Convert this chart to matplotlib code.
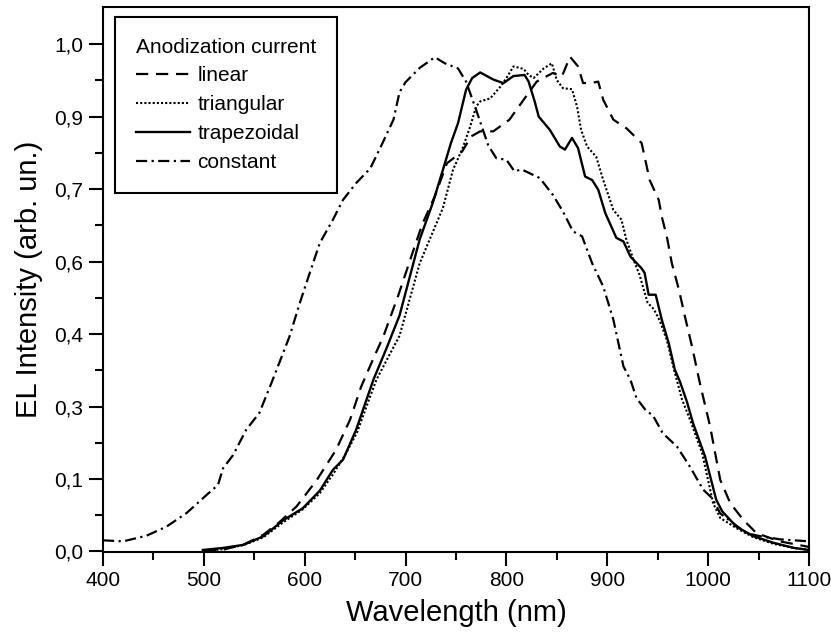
import numpy as np
import matplotlib
matplotlib.use("Agg")
import matplotlib.pyplot as plt
from matplotlib.ticker import FixedLocator, FuncFormatter, MultipleLocator

plt.rcParams['font.family'] = ['Liberation Sans', 'DejaVu Sans']

# linear anodization current (dashed)
wl_linear = [500, 520, 540, 559, 575, 592, 612, 631, 645, 656, 668, 678, 693, 709, 717,
             729, 741, 756, 765, 774, 787, 803, 817, 830, 846, 855, 863, 871, 876, 886,
             891, 896, 906, 919, 934, 937, 942, 951, 954, 959, 964, 971, 977, 984, 992,
             1002, 1012, 1022, 1035, 1048, 1071, 1100]
el_linear = [0.0, 0.004, 0.014, 0.033, 0.058, 0.089, 0.141, 0.200, 0.260, 0.325, 0.380, 0.424,
             0.506, 0.601, 0.647, 0.700, 0.765, 0.788, 0.818, 0.828, 0.828, 0.851, 0.890, 0.926,
             0.943, 0.936, 0.975, 0.956, 0.923, 0.924, 0.926, 0.890, 0.851, 0.834, 0.805, 0.778,
             0.732, 0.693, 0.660, 0.621, 0.568, 0.516, 0.463, 0.404, 0.330, 0.246, 0.141, 0.095,
             0.062, 0.036, 0.020, 0.009]

# triangular (dotted)
wl_triang = [500, 520, 540, 559, 579, 598, 615, 628, 640, 652, 662, 671, 682, 694, 714,
             737, 747, 757, 764, 770, 774, 784, 794, 800, 807, 817, 822, 827, 837, 845,
             850, 856, 865, 870, 874, 880, 889, 896, 906, 914, 919, 926, 932, 940, 946,
             952, 959, 966, 974, 982, 994, 1005, 1012, 1028, 1045, 1065, 1085, 1100]
el_triang = [0.0, 0.005, 0.013, 0.028, 0.058, 0.083, 0.115, 0.152, 0.190, 0.235, 0.290, 0.338,
             0.380, 0.425, 0.568, 0.677, 0.752, 0.797, 0.837, 0.877, 0.887, 0.893, 0.916, 0.933,
             0.956, 0.951, 0.939, 0.933, 0.952, 0.962, 0.929, 0.913, 0.911, 0.877, 0.831, 0.798,
             0.778, 0.732, 0.673, 0.654, 0.614, 0.575, 0.545, 0.490, 0.478, 0.455, 0.417, 0.360,
             0.300, 0.260, 0.194, 0.095, 0.066, 0.046, 0.028, 0.015, 0.007, 0.003]

# trapezoidal (solid)
wl_trapez = [499, 519, 539, 559, 579, 598, 615, 628, 638, 651, 668, 681, 694, 714, 727,
             737, 745, 752, 760, 766, 774, 787, 797, 807, 818, 822, 828, 832, 843, 853,
             858, 865, 871, 878, 885, 891, 898, 909, 916, 923, 934, 937, 941, 948, 954,
             961, 967, 972, 979, 985, 997, 1008, 1014, 1028, 1045, 1065, 1085, 1100]
el_trapez = [0.003, 0.007, 0.013, 0.030, 0.062, 0.085, 0.120, 0.161, 0.181, 0.240, 0.338, 0.400,
             0.465, 0.615, 0.687, 0.752, 0.805, 0.844, 0.910, 0.933, 0.944, 0.930, 0.923, 0.937,
             0.939, 0.926, 0.887, 0.857, 0.831, 0.798, 0.792, 0.815, 0.795, 0.739, 0.732, 0.713,
             0.667, 0.618, 0.611, 0.581, 0.558, 0.549, 0.506, 0.506, 0.457, 0.410, 0.358, 0.335,
             0.295, 0.253, 0.187, 0.102, 0.079, 0.049, 0.030, 0.017, 0.007, 0.003]

# constant (dash-dot)
wl_const = [400, 420, 443, 463, 483, 503, 514, 519, 529, 542, 555, 567, 585, 595, 605,
            615, 628, 638, 651, 665, 676, 688, 694, 700, 714, 729, 739, 752, 760, 770,
            782, 790, 800, 808, 815, 833, 846, 856, 866, 875, 885, 896, 906, 916, 923,
            929, 939, 945, 955, 969, 982, 995, 1004, 1012, 1038, 1052, 1071, 1100]
el_const = [0.022, 0.020, 0.031, 0.049, 0.076, 0.112, 0.131, 0.164, 0.190, 0.240, 0.273, 0.332,
            0.424, 0.489, 0.549, 0.608, 0.654, 0.693, 0.726, 0.755, 0.800, 0.851, 0.905, 0.925,
            0.953, 0.974, 0.962, 0.952, 0.926, 0.870, 0.800, 0.775, 0.772, 0.749, 0.753, 0.736,
            0.703, 0.670, 0.631, 0.621, 0.568, 0.522, 0.457, 0.365, 0.338, 0.302, 0.276, 0.269,
            0.233, 0.207, 0.167, 0.122, 0.105, 0.075, 0.036, 0.030, 0.024, 0.020]

fig = plt.figure(figsize=(8.31, 6.37), dpi=100)
ax = fig.add_axes([103 / 831, 1 - 552 / 637, 706 / 831, 545 / 637])

ax.plot(wl_linear, el_linear, color='black', lw=1.6, dashes=(5.5, 3.5), label='linear')
ax.plot(wl_triang, el_triang, color='black', lw=1.5, dashes=(1, 1), label='triangular')
ax.plot(wl_trapez, el_trapez, color='black', lw=1.7, label='trapezoidal')
ax.plot(wl_const, el_const, color='black', lw=1.6, dashes=(5, 2, 1, 2), label='constant')

ax.set_xlim(400, 1100)
ax.set_ylim(-0.001, 1.073)
ax.xaxis.set_major_locator(MultipleLocator(100))
ax.xaxis.set_minor_locator(MultipleLocator(50))
# y ticks sit at steps of 1/7, labelled with one decimal like the original
ax.yaxis.set_major_locator(FixedLocator(np.arange(8) / 7))
ax.yaxis.set_minor_locator(FixedLocator((np.arange(7) + 0.5) / 7))
ax.yaxis.set_major_formatter(FuncFormatter(lambda v, p: f"{v:.1f}".replace('.', ',')))

for s in ax.spines.values():
    s.set_linewidth(1.5)
ax.tick_params(which='major', direction='out', length=10, width=1.5, labelsize=15, pad=4)
ax.tick_params(which='minor', direction='out', length=5.5, width=1.5)

ax.set_xlabel('Wavelength (nm)', fontsize=21, labelpad=6)
ax.set_ylabel('EL Intensity (arb. un.)', fontsize=21, labelpad=8)

leg = ax.legend(title='Anodization current', loc='upper left', bbox_to_anchor=(0.017, 0.982),
                borderaxespad=0, fontsize=15, title_fontsize=15, alignment='left',
                fancybox=False, edgecolor='black', framealpha=1, handlelength=2.6,
                handletextpad=0.35, labelspacing=0.47, borderpad=1.0)
leg.get_frame().set_linewidth(1.5)

fig.savefig('out.png', dpi=100)
